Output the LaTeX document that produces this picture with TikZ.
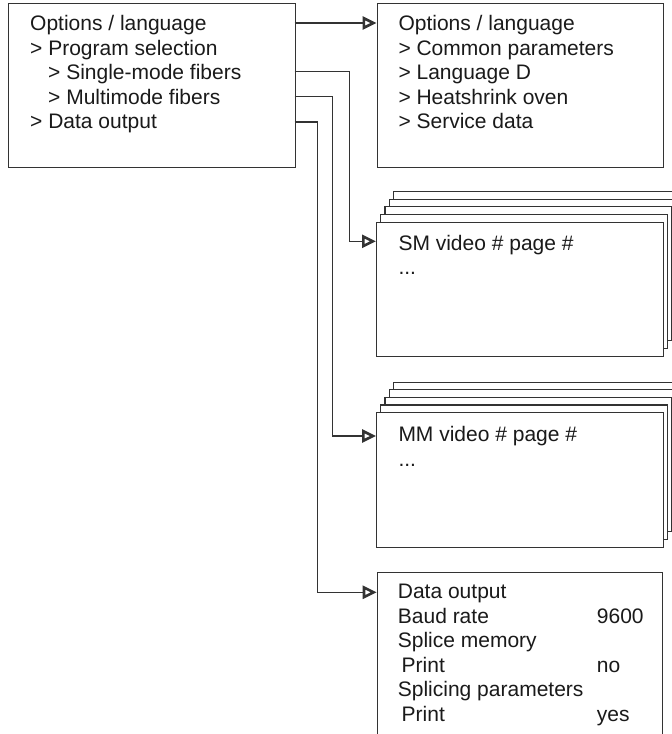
\documentclass[tikz,border=0pt]{standalone}
\usepackage{fontspec}
\setmainfont{Liberation Sans}
\usetikzlibrary{arrows.meta}
\definecolor{ln}{HTML}{333333}
\definecolor{tx}{HTML}{1A1A1A}
\begin{document}
\begin{tikzpicture}[x=1pt,y=-1pt,
  box/.style={draw=ln,line width=1.1pt,fill=white,anchor=north west,inner sep=0pt,minimum width=286.5pt},
  txt/.style={anchor=base west,inner sep=0pt,text=tx,font=\fontsize{21}{24.5}\selectfont},
  conn/.style={draw=ln,line width=1.1pt,-{Triangle[open,length=14pt,width=13pt,line width=2.6pt]}}]
\useasboundingbox (0,0) rectangle (672,734);
\clip (0,0) rectangle (672,734);
% main boxes
\node[box,minimum height=164pt] (L) at (8,3) {};
\node[box,minimum height=163.5pt] (TR) at (376.5,3) {};
% SM stack
\foreach \k in {4,3,2,1}{
  \node[box,minimum height=134pt] (sm\k) at (376+4.2*\k,221.5-7.6*\k) {};
}
\node[box,minimum height=134pt] (SM) at (376,221.5) {};
% MM stack
\foreach \k in {4,3,2,1}{
  \node[box,minimum height=134.5pt] (mm\k) at (376+4.2*\k,412-7.6*\k) {};
}
\node[box,minimum height=134.5pt] (MM) at (376,412) {};
% data box
\node[box,minimum width=285pt,minimum height=200pt] (D) at (376.7,571.7) {};
% left texts
\node[txt] (l1) at (30,30.5) {Options / language};
\node[txt] (l2) at (30,55) {> Program selection};
\node[txt] (l3) at (48,79.5) {> Single-mode fibers};
\node[txt] (l4) at (48,104) {> Multimode fibers};
\node[txt] (l5) at (30,128.5) {> Data output};
% top right texts
\node[txt] (r1) at (398.3,30.5) {Options / language};
\node[txt] (r2) at (398.3,55) {> Common parameters};
\node[txt] (r3) at (398.3,79.5) {> Language D};
\node[txt] (r4) at (398.3,104) {> Heatshrink oven};
\node[txt] (r5) at (398.3,128.5) {> Service data};
% SM / MM texts
\node[txt] (sm) at (398.3,250) {SM video \# page \#};
\node[txt] (smd) at (398.3,274.3) {...};
\node[txt] (mm) at (398.3,441.7) {MM video \# page \#};
\node[txt] (mmd) at (398.3,466.5) {...};
% data texts
\node[txt] (d1) at (397.7,598.3) {Data output};
\node[txt] (d2) at (397.7,623) {Baud rate};
\node[txt] (d2v) at (596.7,623) {9600};
\node[txt] (d3) at (397.7,647.5) {Splice memory};
\node[txt] (d4) at (401.5,672) {Print};
\node[txt] (d4v) at (596.7,672) {no};
\node[txt] (d5) at (397.7,696.5) {Splicing parameters};
\node[txt] (d6) at (401.5,721) {Print};
\node[txt] (d6v) at (596.7,721) {yes};
% connectors
\coordinate (p1) at (294.5,23);
\coordinate (p2) at (294.5,71.7);
\coordinate (p3) at (294.5,96.7);
\coordinate (p4) at (294.5,122);
\coordinate (q2) at (349.3,241.3);
\coordinate (q3) at (332.3,436);
\coordinate (q4) at (317.3,592.3);
\draw[conn] (p1) -- (TR.west |- p1);
\draw[conn] (p2) -| (q2) -- (SM.west |- q2);
\draw[conn] (p3) -| (q3) -- (MM.west |- q3);
\draw[conn] (p4) -| (q4) -- (D.west |- q4);
\end{tikzpicture}
\end{document}
